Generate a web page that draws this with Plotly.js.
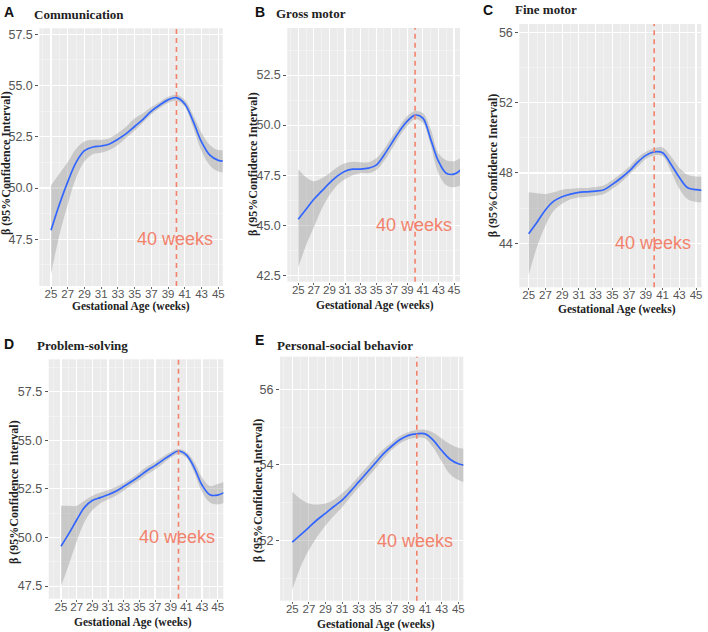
<!DOCTYPE html>
<html><head><meta charset="utf-8">
<script src="https://cdn.plot.ly/plotly-3.0.1.min.js"></script>
<style>html,body{margin:0;padding:0;background:#fff}#chart{width:708px;height:632px}</style>
</head><body><div id="chart"></div>
<script>
// ---- data ----
const weeks = [25,26,27,28,29,30,31,32,33,34,35,36,37,38,39,40,41,42,43,44,45,46];
const xTickVals = [25,27,29,31,33,35,37,39,41,43,45];
const panelLetters = ["A","B","C","D","E"];
const panelTitles = ["Communication","Gross motor","Fine motor","Problem-solving","Personal-social behavior"];
const xTitle = "Gestational Age (weeks)";
const yTitle = "β (95%Confidence Interval)";
const markerLabel = "40 weeks";
const markerWeek = 40;

const commMean  = [47.94,49.2,50.3,51.25,51.82,52.0,52.05,52.15,52.38,52.65,53.0,53.35,53.75,54.05,54.3,54.41,54.1,53.25,52.25,51.6,51.35,51.3];
const commUpper = [50.13,50.7,51.27,51.92,52.27,52.35,52.35,52.43,52.68,53.0,53.4,53.65,53.95,54.2,54.45,54.55,54.3,53.55,52.7,52.1,51.85,51.9];
const commLower = [45.8,47.7,49.2,50.5,51.3,51.65,51.72,51.85,52.1,52.45,52.8,53.2,53.6,53.9,54.15,54.25,53.95,52.95,51.8,51.1,50.8,50.75];

const grossMean  = [45.3,45.8,46.3,46.7,47.1,47.45,47.7,47.8,47.8,47.85,48.0,48.5,49.1,49.7,50.2,50.5,50.35,49.3,48.2,47.6,47.55,47.8];
const grossUpper = [47.8,47.4,47.2,47.35,47.6,47.9,48.1,48.17,48.15,48.15,48.35,48.8,49.4,49.95,50.45,50.7,50.6,49.8,48.6,48.25,48.2,48.4];
const grossLower = [42.9,44.0,44.9,45.8,46.5,47.0,47.3,47.5,47.6,47.6,47.75,48.2,48.8,49.45,49.95,50.3,50.1,49.0,47.6,47.0,46.9,47.0];

const fineMean  = [44.55,45.2,45.9,46.4,46.65,46.8,46.9,46.93,46.97,47.05,47.35,47.7,48.1,48.6,49.0,49.2,49.15,48.5,47.75,47.16,47.05,47.0];
const fineUpper = [46.9,46.85,46.8,46.9,47.05,47.1,47.15,47.15,47.2,47.3,47.6,47.95,48.35,48.85,49.2,49.4,49.45,48.95,48.3,47.9,47.8,47.8];
const fineLower = [42.2,43.8,45.0,45.85,46.25,46.5,46.6,46.65,46.7,46.8,47.1,47.45,47.9,48.35,48.8,49.0,48.95,48.1,47.1,46.5,46.35,46.35];

const probMean  = [49.55,50.2,50.9,51.55,51.9,52.05,52.2,52.38,52.62,52.88,53.15,53.45,53.7,53.98,54.25,54.45,54.25,53.6,52.7,52.2,52.18,52.35];
const probUpper = [51.63,51.63,51.63,51.9,52.15,52.3,52.45,52.6,52.8,53.05,53.35,53.65,53.9,54.15,54.4,54.55,54.4,53.9,53.1,52.65,52.75,52.9];
const probLower = [47.5,48.6,49.8,50.8,51.4,51.75,51.95,52.15,52.4,52.7,52.95,53.25,53.5,53.8,54.1,54.3,54.1,53.35,52.35,51.8,51.7,51.8];

const socMean  = [51.96,52.15,52.35,52.55,52.72,52.9,53.07,53.3,53.55,53.8,54.05,54.3,54.5,54.67,54.78,54.82,54.82,54.65,54.38,54.15,54.03,53.98];
const socUpper = [53.29,53.1,52.98,52.95,52.98,53.08,53.25,53.45,53.7,53.95,54.2,54.42,54.6,54.77,54.87,54.92,54.93,54.85,54.7,54.55,54.45,54.42];
const socLower = [50.7,51.3,51.75,52.1,52.4,52.65,52.88,53.15,53.4,53.65,53.9,54.17,54.4,54.57,54.68,54.72,54.7,54.45,54.08,53.75,53.6,53.52];

// ---- layout helpers (pixel geometry) ----
const W = 708, H = 632;
const panels = [
  {mean: commMean,  up: commUpper,  lo: commLower,  box:[39.3,222.7,28.3,286],  xr:[23.6,45.53], yr:[45.22,57.79], dt:2.5, mdt:1.25, fmt:'.1f', labelY:47.5,
   letter:[9,12], title:[31.7,14.5], xt:[131,305], yt:[6,163]},
  {mean: grossMean, up: grossUpper, lo: grossLower, box:[287.3,460,28,281.7],   xr:[23.59,45.77], yr:[42.18,54.85], dt:2.5, mdt:1.25, fmt:'.1f', labelY:45,
   letter:[259.5,11.7], title:[274,13.3], xt:[375.5,303.3], yt:[253,164]},
  {mean: fineMean,  up: fineUpper,  lo: fineLower,  box:[519.3,701.3,24,287.3], xr:[23.88,45.63], yr:[41.5,56.47], dt:4, mdt:2, fmt:'d', labelY:44,
   letter:[487.7,10], title:[513,10], xt:[617,308], yt:[493.3,165]},
  {mean: probMean,  up: probUpper,  lo: probLower,  box:[48.7,223.3,359.3,598.7], xr:[23.43,45.72], yr:[46.85,59.17], dt:2.5, mdt:1.25, fmt:'.1f', labelY:50,
   letter:[8.7,344], title:[35,345], xt:[132.7,620], yt:[13.3,491.7]},
  {mean: socMean,   up: socUpper,   lo: socLower,   box:[280,463.3,356.7,600.7], xr:[23.52,45.6], yr:[50.41,56.86], dt:2, mdt:1, fmt:'d', labelY:52,
   letter:[259,340], title:[275,345], xt:[376.3,622.7], yt:[258.3,490]}
];

const band = 'rgba(153,153,153,0.42)';
const lineBlue = '#3366FF';
const salmon = '#F2826C';
const tickFontY = {family:'Liberation Sans, Arial, sans-serif', size:12.5, color:'#555555'};
const tickFontX = {family:'Liberation Sans, Arial, sans-serif', size:11.5, color:'#555555'};
const serifBold = 'Liberation Serif, Times New Roman, serif';

const traces = [], shapes = [], annotations = [];
const layout = {
  width: W, height: H, margin:{l:0,r:0,t:0,b:0},
  paper_bgcolor:'#ffffff', plot_bgcolor:'#EBEBEB', showlegend:false
};
const px = x => x / W, py = y => 1 - y / H;

panels.forEach((p, i) => {
  const n = i === 0 ? '' : String(i + 1);
  const xa = 'x' + n, ya = 'y' + n;
  traces.push({x: weeks, y: p.lo, xaxis: xa, yaxis: ya, type:'scatter', mode:'lines',
    line:{width:0, shape:'spline', smoothing:1}, hoverinfo:'skip'});
  traces.push({x: weeks, y: p.up, xaxis: xa, yaxis: ya, type:'scatter', mode:'lines', fill:'tonexty',
    fillcolor: band, line:{width:0, shape:'spline', smoothing:1}, hoverinfo:'skip'});
  traces.push({x: weeks, y: p.mean, xaxis: xa, yaxis: ya, type:'scatter', mode:'lines',
    line:{color: lineBlue, width:1.7, shape:'spline', smoothing:1}});

  layout['xaxis' + n] = {
    domain:[px(p.box[0]), px(p.box[1])], range: p.xr, anchor: ya,
    tickmode:'array', tickvals: xTickVals, tickangle:0, ticks:'outside', ticklen:2, tickcolor:'#666', tickwidth:1,
    ticklabelstandoff:-5,
    tickfont: tickFontX, showgrid:true, gridcolor:'#FFFFFF', gridwidth:1.1, zeroline:false, showline:false,
    minor:{dtick:1, tick0:25, showgrid:true, gridcolor:'#F7F7F7', gridwidth:0.6, ticks:''},
    fixedrange:true
  };
  layout['yaxis' + n] = {
    domain:[py(p.box[3]), py(p.box[2])], range: p.yr, anchor: xa,
    tick0:0, dtick: p.dt, tickformat: p.fmt, ticks:'outside', ticklen:3, tickcolor:'#555', tickwidth:1,
    tickfont: tickFontY, showgrid:true, gridcolor:'#FFFFFF', gridwidth:1.1, zeroline:false, showline:false,
    minor:{dtick: p.mdt, tick0:0, showgrid:true, gridcolor:'#F7F7F7', gridwidth:0.6, ticks:''},
    fixedrange:true
  };

  shapes.push({type:'line', xref: xa, yref: ya + ' domain', x0: markerWeek, x1: markerWeek, y0:0, y1:1,
    line:{color: salmon, width:1.6, dash:'5px,4px'}});

  annotations.push({xref: xa, yref: ya, x: 39.8, y: p.labelY, text: markerLabel, showarrow:false,
    xanchor:'center', yanchor:'middle', font:{family:'Liberation Sans, Arial, sans-serif', size:18, color: salmon}});
  annotations.push({xref:'paper', yref:'paper', x: px(p.letter[0]), y: py(p.letter[1]), text:'<b>' + panelLetters[i] + '</b>',
    showarrow:false, xanchor:'center', yanchor:'middle', font:{family:'Liberation Sans, Arial, sans-serif', size:14, color:'#111'}});
  annotations.push({xref:'paper', yref:'paper', x: px(p.title[0]), y: py(p.title[1]), text:'<b>' + panelTitles[i] + '</b>',
    showarrow:false, xanchor:'left', yanchor:'middle', font:{family: serifBold, size:13, color:'#222'}});
  annotations.push({xref:'paper', yref:'paper', x: px(p.xt[0]), y: py(p.xt[1] + 2), text:'<b>' + xTitle + '</b>',
    showarrow:false, xanchor:'center', yanchor:'middle', borderpad:0, font:{family: serifBold, size:11.5, color:'#222'}});
  annotations.push({xref:'paper', yref:'paper', x: px(p.yt[0]), y: py(p.yt[1]), text:'<b>' + yTitle + '</b>',
    showarrow:false, textangle:-90, xanchor:'center', yanchor:'middle', font:{family: serifBold, size:12, color:'#222'}});
});

layout.shapes = shapes;
layout.annotations = annotations;
Plotly.newPlot('chart', traces, layout, {displayModeBar:false, staticPlot:true});
</script>
</body></html>
